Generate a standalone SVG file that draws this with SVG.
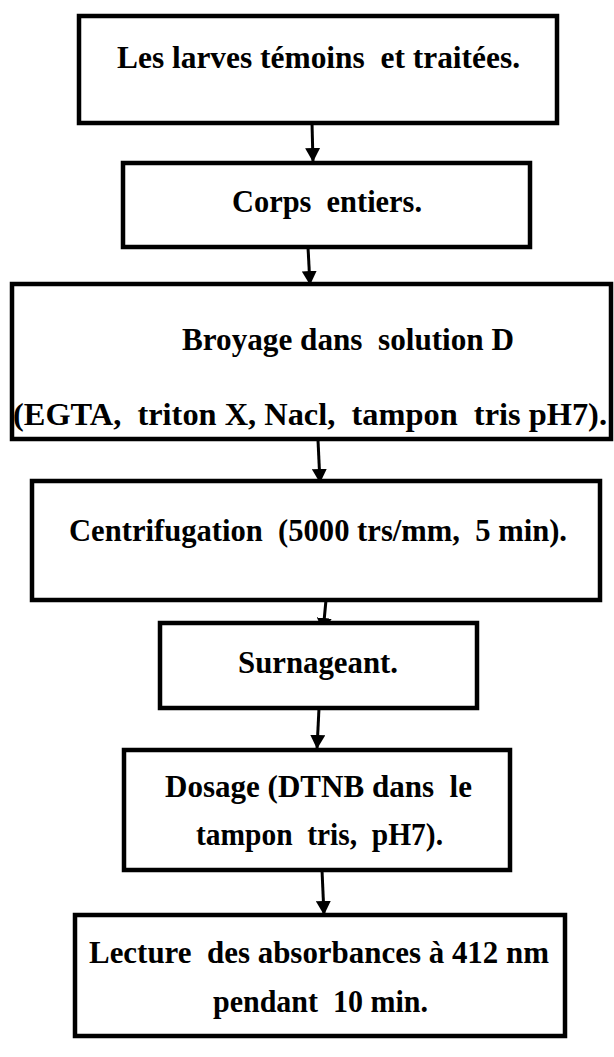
<svg xmlns="http://www.w3.org/2000/svg" width="614" height="1057" viewBox="0 0 614 1057">
  <style>
    .box { fill: #ffffff; stroke: #000000; stroke-width: 4.5; }
    .lbl { font-family: "Liberation Serif", "Times New Roman", serif; font-weight: bold; font-size: 32px; fill: #000000; text-anchor: middle; white-space: pre; }
    .link { stroke: #000000; stroke-width: 3; fill: none; marker-end: url(#head); }
  </style>
  <defs>
    <marker id="head" markerUnits="userSpaceOnUse" markerWidth="15" markerHeight="15" viewBox="0 0 15 15" refX="14" refY="7.5" orient="auto">
      <path d="M0,0 L14,7.5 L0,15 Z" fill="#000000"/>
    </marker>
  </defs>

  <rect width="614" height="1057" fill="#ffffff"/>

  <g id="connectors">
    <line class="link" x1="312" y1="123" x2="313" y2="162"/>
    <line class="link" x1="308" y1="247" x2="310" y2="285"/>
    <line class="link" x1="318" y1="440" x2="320" y2="483"/>
    <line class="link" x1="326" y1="600" x2="323" y2="632"/>
    <line class="link" x1="319" y1="708" x2="317" y2="749"/>
    <line class="link" x1="322" y1="870" x2="324" y2="915"/>
  </g>

  <g id="node-larves">
    <rect class="box" x="79" y="16" width="478" height="107"/>
    <text class="lbl" x="318.5" y="68" textLength="403" lengthAdjust="spacingAndGlyphs">Les larves témoins  et traitées.</text>
  </g>

  <g id="node-corps">
    <rect class="box" x="123" y="163" width="407" height="84"/>
    <text class="lbl" x="327" y="212" textLength="190" lengthAdjust="spacingAndGlyphs">Corps  entiers.</text>
  </g>

  <g id="node-broyage">
    <rect class="box" x="12" y="284" width="599" height="155"/>
    <text class="lbl" x="348" y="350" textLength="332" lengthAdjust="spacingAndGlyphs">Broyage dans  solution D</text>
    <text class="lbl" x="310" y="425" textLength="594" lengthAdjust="spacingAndGlyphs">(EGTA,  triton X, Nacl,  tampon  tris pH7).</text>
  </g>

  <g id="node-centrifugation">
    <rect class="box" x="32" y="481" width="568" height="119"/>
    <text class="lbl" x="318" y="541" textLength="498" lengthAdjust="spacingAndGlyphs">Centrifugation  (5000 trs/mm,  5 min).</text>
  </g>

  <g id="node-surnageant">
    <rect class="box" x="160" y="623" width="317" height="85"/>
    <text class="lbl" x="318" y="673" textLength="160" lengthAdjust="spacingAndGlyphs">Surnageant.</text>
  </g>

  <g id="node-dosage">
    <rect class="box" x="124" y="750" width="386" height="120"/>
    <text class="lbl" x="318.5" y="797" textLength="307" lengthAdjust="spacingAndGlyphs">Dosage (DTNB dans  le</text>
    <text class="lbl" x="319.5" y="845" textLength="247" lengthAdjust="spacingAndGlyphs">tampon  tris,  pH7).</text>
  </g>

  <g id="node-lecture">
    <rect class="box" x="75" y="915" width="490" height="121"/>
    <text class="lbl" x="319" y="963" textLength="460" lengthAdjust="spacingAndGlyphs">Lecture  des absorbances à 412 nm</text>
    <text class="lbl" x="320.5" y="1012" textLength="215" lengthAdjust="spacingAndGlyphs">pendant  10 min.</text>
  </g>
</svg>
